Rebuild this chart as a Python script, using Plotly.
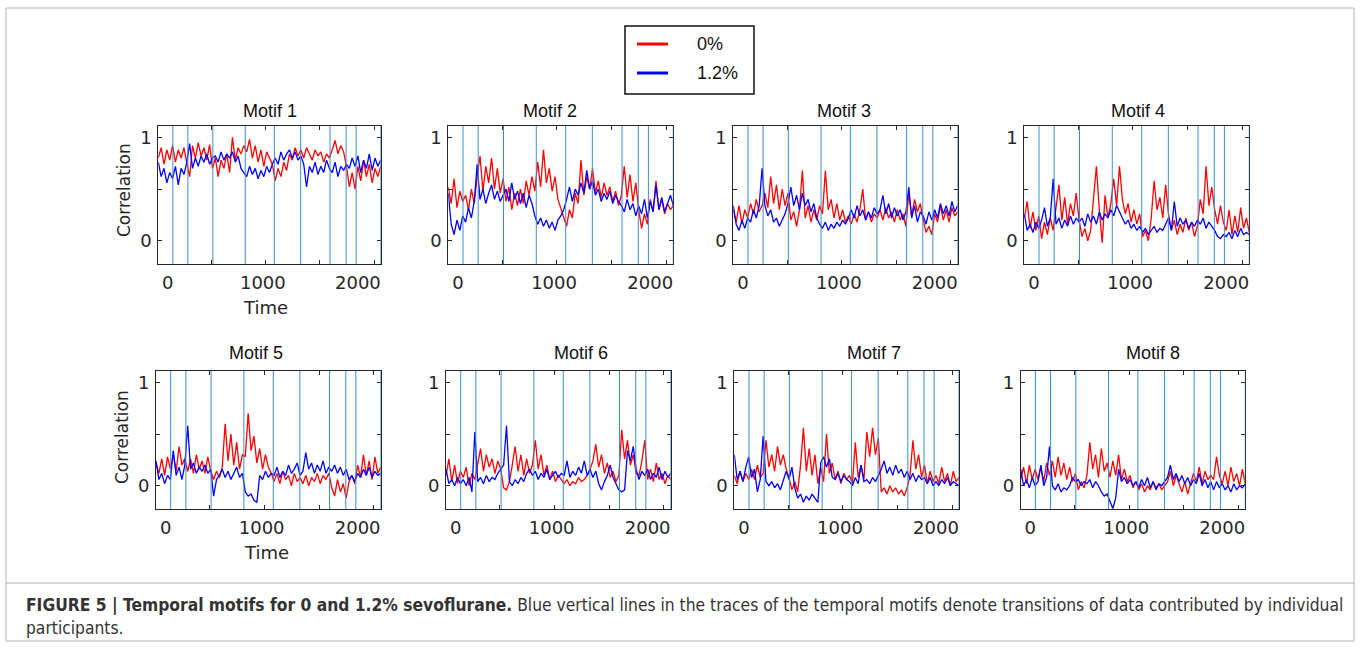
import plotly.graph_objects as go

# ---------------- data ----------------
time = list(range(-100, 2241, 30))  # 79 samples
transitions = [53, 211, 474, 815, 1121, 1398, 1707, 1876, 1981, 2240]
x_tick_vals = [0, 1000, 2000]
x_tick_text = ["0", "1000", "2000"]
x_minor_marks = [460, 1030, 1600, 2170]
y_tick_vals = [0, 0.5, 1]
y_tick_text = ["0", "", "1"]
series_names = ["0%", "1.2%"]
titles = ["Motif 1", "Motif 2", "Motif 3", "Motif 4", "Motif 5", "Motif 6", "Motif 7", "Motif 8"]

m1_red = [0.80, 0.90, 0.74, 0.88, 0.78, 0.92, 0.76, 0.88, 0.80, 0.90, 0.75,
          0.62, 0.92, 0.80, 0.95, 0.82, 0.90, 0.78, 0.93, 0.70,
          0.80, 0.62, 0.78, 0.70, 0.84, 0.66, 1.00, 0.78, 0.90, 0.84, 0.92,
          0.86, 0.98, 0.80, 0.92, 0.76, 0.88, 0.72, 0.86, 0.80, 0.74,
          0.58, 0.70, 0.62, 0.76, 0.68, 0.84, 0.78, 0.90, 0.82, 0.88,
          0.80, 0.90, 0.84, 0.78, 0.88, 0.82, 0.86, 0.76, 0.84, 0.80,
          0.88, 0.97, 0.84, 0.92, 0.86, 0.72, 0.52, 0.66, 0.50,
          0.72, 0.58, 0.78, 0.62, 0.74, 0.56, 0.70, 0.62, 0.72]
m1_blue = [0.76, 0.62, 0.70, 0.56, 0.66, 0.60, 0.72, 0.54, 0.70, 0.64, 0.76,
           0.94, 0.70, 0.80, 0.72, 0.82, 0.76, 0.84, 0.74, 0.80,
           0.82, 0.76, 0.86, 0.78, 0.84, 0.80, 0.86, 0.76, 0.82, 0.70, 0.66,
           0.62, 0.72, 0.64, 0.70, 0.60, 0.68, 0.62, 0.72, 0.66, 0.74,
           0.80, 0.74, 0.86, 0.78, 0.84, 0.88, 0.80, 0.86, 0.78, 0.82,
           0.74, 0.52, 0.72, 0.66, 0.76, 0.64, 0.72, 0.66, 0.78, 0.70,
           0.66, 0.76, 0.62, 0.72, 0.68, 0.74, 0.70, 0.80, 0.72,
           0.82, 0.66, 0.78, 0.70, 0.84, 0.68, 0.80, 0.72, 0.78]

m2_red = [0.52, 0.36, 0.60, 0.32, 0.48, 0.38, 0.44, 0.30, 0.50, 0.36, 0.62,
          0.82, 0.48, 0.72, 0.56, 0.80, 0.50, 0.70, 0.46, 0.60,
          0.38, 0.52, 0.30, 0.46, 0.34, 0.50, 0.36, 0.58, 0.44, 0.62, 0.48,
          0.76, 0.52, 0.88, 0.56, 0.70, 0.48, 0.62, 0.40, 0.32, 0.22,
          0.14, 0.30, 0.22, 0.46, 0.36, 0.78, 0.44, 0.62, 0.50, 0.70,
          0.46, 0.58, 0.42, 0.56, 0.44, 0.52, 0.38, 0.48, 0.34, 0.44,
          0.72, 0.42, 0.64, 0.38, 0.56, 0.30, 0.12, 0.26, 0.16,
          0.40, 0.28, 0.58, 0.30, 0.40, 0.26, 0.36, 0.30, 0.34]
m2_blue = [0.46, 0.16, 0.06, 0.20, 0.10, 0.24, 0.18, 0.32, 0.22, 0.38, 0.74,
           0.40, 0.50, 0.36, 0.46, 0.54, 0.40, 0.48, 0.38, 0.44,
           0.50, 0.38, 0.56, 0.40, 0.48, 0.36, 0.46, 0.32, 0.44, 0.36, 0.24,
           0.16, 0.22, 0.14, 0.20, 0.12, 0.18, 0.10, 0.20, 0.24, 0.30,
           0.40, 0.52, 0.38, 0.50, 0.44, 0.56, 0.46, 0.68, 0.50, 0.58,
           0.44, 0.50, 0.38, 0.46, 0.40, 0.48, 0.36, 0.44, 0.38, 0.34,
           0.28, 0.40, 0.30, 0.36, 0.24, 0.34, 0.26, 0.40, 0.22,
           0.38, 0.28, 0.54, 0.30, 0.42, 0.28, 0.36, 0.44, 0.34]

m3_red = [0.30, 0.18, 0.34, 0.16, 0.30, 0.22, 0.36, 0.26, 0.40, 0.28, 0.34,
          0.46, 0.32, 0.62, 0.36, 0.54, 0.30, 0.50, 0.34, 0.46,
          0.20, 0.28, 0.14, 0.30, 0.68, 0.22, 0.34, 0.18, 0.30, 0.20, 0.34,
          0.26, 0.68, 0.30, 0.40, 0.22, 0.36, 0.20, 0.30, 0.18, 0.24,
          0.16, 0.26, 0.18, 0.30, 0.50, 0.20, 0.28, 0.18, 0.26, 0.22,
          0.30, 0.20, 0.32, 0.22, 0.28, 0.18, 0.30, 0.20, 0.26, 0.14,
          0.46, 0.24, 0.40, 0.28, 0.36, 0.20, 0.08, 0.14, 0.06,
          0.26, 0.18, 0.34, 0.20, 0.30, 0.18, 0.32, 0.24, 0.28]
m3_blue = [0.34, 0.16, 0.10, 0.20, 0.12, 0.22, 0.18, 0.30, 0.22, 0.34, 0.70,
           0.34, 0.24, 0.30, 0.18, 0.22, 0.14, 0.20, 0.26, 0.36,
           0.52, 0.34, 0.44, 0.30, 0.46, 0.34, 0.40, 0.28, 0.36, 0.22, 0.16,
           0.12, 0.18, 0.10, 0.16, 0.12, 0.18, 0.14, 0.20, 0.16, 0.22,
           0.30, 0.22, 0.34, 0.24, 0.30, 0.20, 0.28, 0.22, 0.32, 0.26,
           0.30, 0.44, 0.26, 0.36, 0.22, 0.32, 0.24, 0.30, 0.20, 0.28,
           0.52, 0.22, 0.34, 0.18, 0.28, 0.24, 0.16, 0.28, 0.20,
           0.30, 0.22, 0.36, 0.26, 0.34, 0.24, 0.38, 0.28, 0.34]

m4_red = [0.22, 0.38, 0.12, 0.28, 0.10, 0.24, 0.02, 0.18, 0.06, 0.22, 0.10,
          0.30, 0.54, 0.20, 0.42, 0.16, 0.36, 0.24, 0.46, 0.20,
          0.04, 0.12, 0.00, 0.10, 0.40, 0.72, 0.30, -0.02, 0.44, 0.22, 0.36,
          0.60, 0.34, 0.72, 0.40, 0.26, 0.36, 0.18, 0.30, 0.16, 0.26,
          0.04, 0.10, 0.00, 0.22, 0.58, 0.30, 0.42, 0.22, 0.54, 0.26,
          0.10, 0.20, 0.06, 0.16, 0.08, 0.22, 0.10, 0.18, 0.04, 0.14,
          0.40, 0.26, 0.72, 0.34, 0.52, 0.30, 0.16, 0.34, 0.18,
          0.10, 0.30, 0.06, 0.24, 0.08, 0.32, 0.12, 0.22, 0.08]
m4_blue = [0.26, 0.10, 0.16, 0.08, 0.18, 0.12, 0.20, 0.32, 0.14, 0.22, 0.60,
           0.16, 0.22, 0.12, 0.20, 0.14, 0.24, 0.16, 0.22, 0.18,
           0.22, 0.14, 0.26, 0.18, 0.24, 0.16, 0.28, 0.20, 0.26, 0.22, 0.30,
           0.24, 0.34, 0.28, 0.22, 0.16, 0.20, 0.12, 0.16, 0.10, 0.14,
           0.08, 0.12, 0.06, 0.10, 0.14, 0.08, 0.12, 0.10, 0.16, 0.22,
           0.10, 0.38, 0.14, 0.22, 0.16, 0.20, 0.12, 0.18, 0.14, 0.20,
           0.16, 0.22, 0.12, 0.18, 0.14, 0.10, 0.04, 0.02, 0.06,
           0.04, 0.08, 0.02, 0.10, 0.04, 0.12, 0.06, 0.08, 0.06]

m5_red = [0.22, 0.12, 0.26, 0.10, 0.28, 0.16, 0.30, 0.14, 0.38, 0.20, 0.26,
          0.14, 0.26, 0.12, 0.30, 0.16, 0.24, 0.12, 0.28, 0.14,
          0.06, 0.14, 0.08, 0.18, 0.60, 0.24, 0.50, 0.20, 0.42, 0.16, 0.30,
          0.28, 0.70, 0.34, 0.48, 0.22, 0.36, 0.16, 0.30, 0.18, 0.12,
          0.04, 0.12, 0.02, 0.14, 0.06, 0.10, 0.00, 0.12, 0.04, 0.08,
          0.02, 0.10, 0.00, 0.08, 0.04, 0.12, 0.02, 0.10, 0.06, 0.12,
          -0.02, -0.10, 0.06, -0.06, 0.02, -0.12, 0.04, 0.10, 0.02,
          0.20, 0.08, 0.30, 0.10, 0.24, 0.06, 0.28, 0.12, 0.18]
m5_blue = [0.24, 0.06, 0.12, 0.02, 0.10, 0.06, 0.34, 0.10, 0.18, 0.06, 0.20,
           0.58, 0.16, 0.22, 0.12, 0.18, 0.14, 0.20, 0.12, 0.16,
           -0.10, 0.06, 0.10, 0.16, 0.08, 0.14, 0.06, 0.12, 0.18, 0.08, 0.12,
           -0.06, -0.10, -0.08, -0.14, -0.16, 0.10, 0.06, 0.14, 0.08, 0.12,
           0.10, 0.18, 0.08, 0.14, 0.10, 0.20, 0.12, 0.16, 0.22, 0.10,
           0.14, 0.32, 0.16, 0.22, 0.12, 0.20, 0.14, 0.24, 0.12, 0.18,
           0.14, 0.20, 0.12, 0.18, 0.10, 0.16, 0.06, 0.10, 0.04,
           0.12, 0.08, 0.16, 0.10, 0.18, 0.08, 0.14, 0.10, 0.12]

m6_red = [0.10, 0.26, 0.04, 0.20, 0.02, 0.14, 0.08, 0.18, 0.00, 0.12, 0.06,
          0.20, 0.36, 0.14, 0.30, 0.18, 0.26, 0.12, 0.24, 0.16,
          -0.02, -0.04, 0.04, 0.20, 0.38, 0.14, 0.30, 0.10, 0.26, 0.12, 0.20,
          0.44, 0.16, 0.30, 0.10, 0.20, 0.06, 0.14, 0.04, 0.10, 0.06,
          0.02, 0.06, 0.00, 0.04, 0.02, 0.08, 0.04, 0.06, 0.10, 0.16,
          0.24, 0.40, 0.18, 0.30, 0.12, 0.22, 0.08, 0.14, 0.04, 0.10,
          0.54, 0.26, 0.44, 0.20, 0.30, 0.12, 0.10, 0.24, 0.44,
          0.06, 0.16, 0.04, 0.22, 0.06, 0.12, 0.02, 0.10, 0.06]
m6_blue = [0.16, 0.02, 0.06, 0.00, 0.08, 0.02, 0.06, 0.00, 0.08, -0.06, 0.52,
           0.04, 0.08, 0.02, 0.10, 0.04, 0.08, 0.06, 0.12, 0.16,
           0.20, 0.58, 0.04, 0.00, 0.06, 0.02, 0.08, 0.04, 0.12, 0.16, 0.10,
           0.14, 0.06, 0.12, 0.08, 0.16, 0.06, 0.10, 0.14, 0.08, 0.12,
           0.10, 0.24, 0.08, 0.14, 0.10, 0.18, 0.12, 0.24, 0.10, 0.16,
           0.08, 0.14, 0.02, -0.04, 0.04, 0.10, 0.20, 0.08, 0.02, -0.04,
           -0.06, -0.04, 0.34, 0.24, 0.38, 0.16, 0.06, 0.14, 0.10,
           0.16, 0.06, 0.12, 0.08, 0.18, 0.06, 0.14, 0.08, 0.12]

m7_red = [0.10, 0.02, 0.14, 0.04, 0.12, 0.06, 0.16, 0.06, 0.20, 0.08, 0.12,
          0.44, 0.18, 0.30, 0.14, 0.38, 0.20, 0.30, 0.16, 0.08,
          -0.04, 0.04, -0.06, 0.20, 0.56, 0.14, 0.36, 0.10, 0.30, 0.02, 0.18,
          0.04, 0.50, 0.12, 0.22, 0.06, 0.14, 0.02, 0.12, 0.06, 0.10,
          0.02, 0.42, 0.08, 0.20, 0.06, 0.52, 0.28, 0.56, 0.30, 0.46,
          -0.06, -0.02, -0.08, 0.00, -0.06, -0.02, -0.08, -0.04, -0.10, -0.02,
          0.10, 0.44, 0.16, 0.30, 0.08, 0.20, 0.02, 0.14, 0.04,
          0.10, 0.02, 0.18, 0.04, 0.12, 0.00, 0.14, 0.04, 0.08]
m7_blue = [0.30, 0.06, 0.14, 0.04, 0.18, 0.28, 0.08, 0.16, -0.06, 0.06, 0.48,
           0.04, 0.00, 0.04, -0.02, 0.02, -0.04, 0.06, 0.14, 0.06,
           0.18, -0.02, -0.12, -0.08, -0.16, -0.10, -0.14, -0.08, -0.12, -0.16, 0.22,
           0.28, 0.18, 0.26, 0.08, 0.06, 0.12, 0.04, 0.10, 0.06, 0.04,
           0.00, 0.08, 0.02, 0.20, 0.04, 0.06, 0.02, 0.08, 0.04, 0.10,
           0.16, 0.24, 0.12, 0.18, 0.10, 0.20, 0.12, 0.16, 0.08, 0.14,
           0.06, 0.12, 0.04, 0.10, 0.06, 0.08, 0.02, 0.08, 0.00,
           0.04, 0.00, 0.06, 0.02, 0.08, 0.00, 0.04, 0.02, 0.00]

m8_red = [0.06, 0.18, 0.02, 0.20, 0.06, 0.16, 0.06, 0.18, 0.04, 0.22, 0.10,
          0.24, 0.08, 0.28, 0.10, 0.22, 0.06, 0.18, 0.04, 0.12,
          -0.04, 0.04, -0.02, 0.10, 0.42, 0.16, 0.30, 0.08, 0.36, 0.14, 0.22,
          0.08, 0.24, 0.10, 0.30, 0.06, 0.16, 0.04, 0.10, -0.02, 0.04,
          -0.04, 0.02, -0.06, 0.00, -0.04, 0.04, -0.02, 0.02, -0.04, 0.00,
          0.04, 0.14, 0.00, 0.10, 0.02, -0.06, 0.04, -0.08, 0.02, 0.12,
          0.04, 0.18, 0.02, 0.14, 0.06, 0.10, 0.06, 0.28, 0.10,
          0.02, 0.14, 0.00, 0.18, 0.04, 0.12, 0.00, 0.16, 0.02]
m8_blue = [0.16, 0.00, 0.06, -0.02, 0.08, 0.00, 0.04, 0.20, 0.00, 0.08, 0.38,
           0.00, -0.04, 0.02, -0.06, -0.02, -0.04, 0.00, 0.08, 0.04,
           0.06, 0.00, 0.04, 0.02, 0.06, -0.02, 0.04, 0.00, -0.06, -0.10, -0.08,
           -0.16, -0.22, -0.12, 0.16, 0.04, 0.08, 0.02, 0.06, 0.00, 0.04,
           -0.02, 0.06, 0.00, 0.08, -0.02, 0.04, -0.04, 0.02, 0.00, 0.04,
           0.08, 0.20, 0.06, 0.12, 0.04, 0.10, 0.02, 0.08, 0.00, 0.06,
           0.02, 0.12, 0.00, 0.06, -0.02, 0.04, -0.04, 0.04, -0.02,
           0.02, -0.04, 0.00, -0.06, 0.02, -0.04, 0.00, -0.02, 0.02]

red_series = [m1_red, m2_red, m3_red, m4_red, m5_red, m6_red, m7_red, m8_red]
blue_series = [m1_blue, m2_blue, m3_blue, m4_blue, m5_blue, m6_blue, m7_blue, m8_blue]

# ---------------- layout geometry (pixels) ----------------
W, H = 1360, 647
panel_x = [(158.3, 380.7), (448.3, 673.3), (733.3, 957.7), (1024.3, 1249.3),
           (156.0, 380.7), (446.0, 670.7), (734.3, 959.0), (1020.7, 1245.3)]
row_y = [(126, 264), (371, 509)]
title_pos = [(270, 111), (550, 111), (844, 111), (1138, 111),
             (256, 353), (581, 353), (874, 353), (1153, 353)]

RED = "#FF0000"
BLUE = "#0000FF"
TRANS = "#3A8FD0"
AX = "#262626"


def fx(p):
    return p / W


def fy(p):
    return 1 - p / H


fig = go.Figure()
layout = dict(
    width=W, height=H, margin=dict(l=0, r=0, t=0, b=0),
    paper_bgcolor="white", plot_bgcolor="white", showlegend=False,
)
shapes = []
annotations = []

for k in range(8):
    ax = "" if k == 0 else str(k + 1)
    row = 0 if k < 4 else 1
    fig.add_trace(go.Scatter(x=time, y=red_series[k], mode="lines", name=series_names[0],
                             line=dict(color=RED, width=1.3), xaxis="x" + ax, yaxis="y" + ax))
    fig.add_trace(go.Scatter(x=time, y=blue_series[k], mode="lines", name=series_names[1],
                             line=dict(color=BLUE, width=1.3), xaxis="x" + ax, yaxis="y" + ax))
    x0, x1 = panel_x[k]
    y0, y1 = row_y[row]
    layout["xaxis" + ax] = dict(
        domain=[fx(x0), fx(x1)], range=[-100, 2240], anchor="y" + ax,
        showline=True, mirror="allticks", linecolor=AX, linewidth=1,
        showgrid=False, zeroline=False,
        tickmode="array", tickvals=x_tick_vals, ticktext=x_tick_text, ticks="",
        ticklabelstandoff=2,
        tickfont=dict(family="DejaVu Sans", size=18, color=AX),
        minor=dict(tickmode="array", tickvals=x_minor_marks, ticks="inside", ticklen=4,
                   tickcolor=AX, showgrid=False),
        fixedrange=True,
    )
    layout["yaxis" + ax] = dict(
        domain=[fy(y1), fy(y0)], range=[-0.225, 1.11], anchor="x" + ax,
        showline=True, mirror="allticks", linecolor=AX, linewidth=1,
        showgrid=False, zeroline=False,
        tickmode="array", tickvals=y_tick_vals, ticktext=y_tick_text,
        ticks="inside", ticklen=4, tickcolor=AX, ticklabelstandoff=2,
        tickfont=dict(family="DejaVu Sans", size=18, color=AX),
        fixedrange=True,
    )
    for t in transitions:
        shapes.append(dict(type="line", xref="x" + ax, yref="y" + ax + " domain",
                           x0=t, x1=t, y0=0, y1=1, layer="above",
                           line=dict(color=TRANS, width=1)))
    tx, ty = title_pos[k]
    annotations.append(dict(text=titles[k], x=fx(tx), y=fy(ty), xref="paper", yref="paper",
                            xanchor="center", yanchor="middle", showarrow=False,
                            font=dict(family="Liberation Sans, Arial", size=18, color="#111")))

# axis labels for first column
for (cx, cy) in [(124, 190), (122, 437)]:
    annotations.append(dict(text="Correlation", x=fx(cx), y=fy(cy), xref="paper", yref="paper",
                            xanchor="center", yanchor="middle", showarrow=False, textangle=-90,
                            font=dict(family="DejaVu Sans", size=17, color=AX)))
for (cx, cy) in [(265, 307), (266, 552)]:
    annotations.append(dict(text="Time", x=fx(cx), y=fy(cy), xref="paper", yref="paper",
                            xanchor="center", yanchor="middle", showarrow=False,
                            font=dict(family="DejaVu Sans", size=18, color=AX)))

# legend (drawn manually)
shapes.append(dict(type="rect", xref="paper", yref="paper", x0=fx(625), x1=fx(754),
                   y0=fy(94), y1=fy(26), line=dict(color="#111", width=1.5), fillcolor="white"))
for (ly, col, name) in [(44, RED, series_names[0]), (73, BLUE, series_names[1])]:
    shapes.append(dict(type="line", xref="paper", yref="paper", x0=fx(637), x1=fx(668),
                       y0=fy(ly), y1=fy(ly), line=dict(color=col, width=3)))
    annotations.append(dict(text=name, x=fx(695), y=fy(ly), xref="paper", yref="paper",
                            xanchor="left", yanchor="middle", showarrow=False,
                            font=dict(family="Liberation Sans, Arial", size=18, color="#111")))

# outer frame and caption separator
shapes.append(dict(type="rect", xref="paper", yref="paper", x0=fx(6), x1=fx(1354),
                   y0=fy(641), y1=fy(8), line=dict(color="#b5b5b5", width=1), layer="below"))
shapes.append(dict(type="line", xref="paper", yref="paper", x0=fx(6), x1=fx(1354),
                   y0=fy(583), y1=fy(583), line=dict(color="#b5b5b5", width=1)))

cap_font = dict(family="Liberation Sans Narrow, DejaVu Sans Condensed, Arial Narrow, sans-serif",
                size=17.3, color="#333")
annotations.append(dict(
    text="<b>FIGURE 5 | Temporal motifs for 0 and 1.2% sevoflurane.</b> Blue vertical lines in the traces "
         "of the temporal motifs denote transitions of data contributed by individual",
    x=fx(24), y=fy(605), xref="paper", yref="paper", xanchor="left", yanchor="middle",
    showarrow=False, font=cap_font))
annotations.append(dict(text="participants.", x=fx(24), y=fy(628), xref="paper", yref="paper",
                        xanchor="left", yanchor="middle", showarrow=False, font=cap_font))

layout["shapes"] = shapes
layout["annotations"] = annotations
fig.update_layout(**layout)
fig.write_html("out.html", config={"displayModeBar": False},
               post_script="document.body.style.margin='0px';document.body.style.overflow='hidden';")
